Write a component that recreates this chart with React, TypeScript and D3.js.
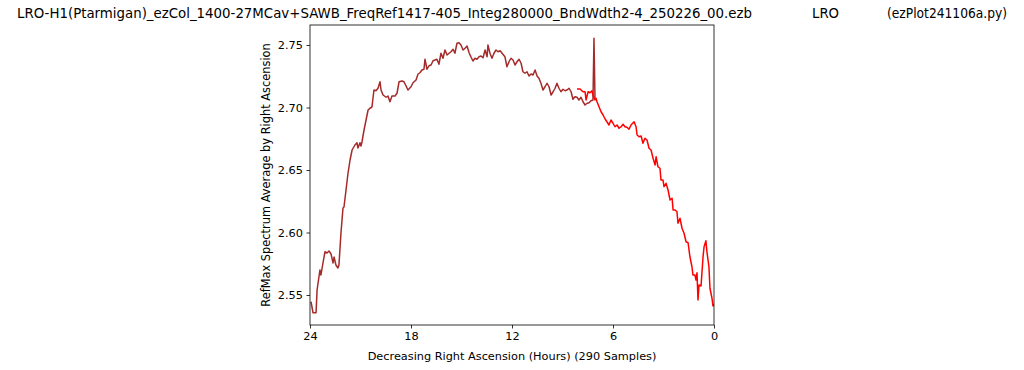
import React, { useEffect, useRef } from 'react';
import * as d3 from 'd3';

// brown trace (first pass), hours of RA vs averaged RefMax
const brownHours = [
  23.94, 23.82, 23.64, 23.58, 23.41, 23.35, 23.23, 23.11, 22.99, 22.87,
  22.75, 22.63, 22.57, 22.46, 22.34, 22.28, 22.16, 22.04, 21.98, 21.86,
  21.74, 21.62, 21.50, 21.33, 21.21, 21.15, 21.03, 20.97, 20.91, 20.79,
  20.67, 20.55, 20.44, 20.32, 20.20, 20.08, 19.96, 19.84, 19.78, 19.66,
  19.48, 19.37, 19.25, 19.13, 18.95, 18.83, 18.71, 18.53, 18.42, 18.30,
  18.18, 18.00, 17.88, 17.70, 17.58, 17.47, 17.35, 17.23, 17.17, 17.05,
  16.93, 16.81, 16.69, 16.57, 16.46, 16.34, 16.22, 16.10, 15.98, 15.86,
  15.74, 15.62, 15.50, 15.39, 15.27, 15.15, 15.03, 14.91, 14.79, 14.67,
  14.55, 14.43, 14.32, 14.20, 14.08, 13.96, 13.84, 13.72, 13.60, 13.48,
  13.43, 13.31, 13.19, 13.07, 12.95, 12.83, 12.71, 12.59, 12.42, 12.30,
  12.18, 12.06, 11.94, 11.82, 11.70, 11.58, 11.46, 11.35, 11.23, 11.11,
  10.99, 10.87, 10.75, 10.63, 10.51, 10.40, 10.28, 10.16, 10.04, 9.92,
  9.80, 9.68, 9.56, 9.44, 9.33, 9.21, 9.09, 8.97, 8.85, 8.73,
  8.61, 8.49, 8.38, 8.26, 8.14, 8.02, 7.90, 7.78, 7.66, 7.54,
  7.42, 7.31, 7.19, 7.13, 7.07,
];
const brownValues = [
  2.5446, 2.5358, 2.5358, 2.554, 2.570, 2.566, 2.5756, 2.5846, 2.5836, 2.5852,
  2.5828, 2.5756, 2.5804, 2.574, 2.5716, 2.574, 2.5996, 2.6196, 2.6204, 2.634,
  2.6476, 2.658, 2.666, 2.670, 2.6718, 2.6676, 2.6718, 2.6692, 2.6726, 2.682,
  2.690, 2.698, 2.6994, 2.7004, 2.714, 2.7134, 2.7154, 2.7206, 2.714, 2.710,
  2.7082, 2.7092, 2.7046, 2.7092, 2.7092, 2.7114, 2.7206, 2.7212, 2.7206, 2.7174,
  2.714, 2.7166, 2.7198, 2.722, 2.7268, 2.7278, 2.730, 2.7306, 2.7386, 2.7306,
  2.7334, 2.734, 2.7374, 2.738, 2.7386, 2.7346, 2.7434, 2.7394, 2.746, 2.742,
  2.7434, 2.7446, 2.7466, 2.7434, 2.7514, 2.7518, 2.750, 2.746, 2.7474, 2.7492,
  2.7438, 2.7402, 2.7372, 2.7394, 2.7386, 2.7406, 2.7412, 2.7398, 2.746, 2.7406,
  2.750, 2.7434, 2.7394, 2.7434, 2.746, 2.7446, 2.7454, 2.7434, 2.7406, 2.7326,
  2.7366, 2.7394, 2.738, 2.734, 2.7366, 2.7386, 2.7354, 2.7286, 2.7274, 2.7286,
  2.7252, 2.7268, 2.726, 2.730, 2.7252, 2.7234, 2.7194, 2.714, 2.7166, 2.7194,
  2.7166, 2.710, 2.7126, 2.7154, 2.7194, 2.7154, 2.7126, 2.7146, 2.7134, 2.714,
  2.7154, 2.7126, 2.7066, 2.7086, 2.7082, 2.706, 2.7082, 2.7046, 2.702, 2.7034,
  2.7038, 2.7054, 2.706, 2.7554, 2.7076,
];

// red trace (second pass)
const redHours = [
  8.14, 7.96, 7.78, 7.66, 7.60, 7.48, 7.37, 7.25, 7.19, 7.07,
  7.01, 6.95, 6.83, 6.71, 6.59, 6.47, 6.36, 6.24, 6.12, 6.00,
  5.88, 5.76, 5.64, 5.52, 5.40, 5.29, 5.17, 5.05, 4.93, 4.75,
  4.63, 4.57, 4.45, 4.33, 4.22, 4.10, 3.98, 3.86, 3.74, 3.62,
  3.50, 3.44, 3.33, 3.21, 3.15, 3.03, 2.97, 2.85, 2.73, 2.61,
  2.49, 2.43, 2.31, 2.20, 2.14, 2.02, 1.90, 1.78, 1.66, 1.54,
  1.43, 1.31, 1.25, 1.13, 1.07, 1.01, 0.95, 0.89, 0.77, 0.65,
  0.59, 0.48, 0.42, 0.30, 0.24, 0.12, 0.06, 0.00,
];
const redValues = [
  2.7148, 2.7148, 2.7126, 2.7126, 2.706, 2.7126, 2.7118, 2.7134, 2.710, 2.706,
  2.7074, 2.7046, 2.7006, 2.6966, 2.694, 2.6908, 2.6886, 2.686, 2.690, 2.6874,
  2.6846, 2.686, 2.6834, 2.6846, 2.6866, 2.6846, 2.6842, 2.6826, 2.686, 2.6886,
  2.6846, 2.678, 2.6766, 2.6772, 2.6714, 2.6754, 2.674, 2.6674, 2.666, 2.6594,
  2.654, 2.6606, 2.6526, 2.6514, 2.642, 2.642, 2.6366, 2.6394, 2.634, 2.626,
  2.6274, 2.618, 2.618, 2.6166, 2.6074, 2.6114, 2.6034, 2.5994, 2.5926, 2.5918,
  2.5806, 2.5726, 2.566, 2.566, 2.562, 2.5678, 2.546, 2.558, 2.5572, 2.5806,
  2.5886, 2.5934, 2.5846, 2.5726, 2.5554, 2.5474, 2.5412, 2.5428,
];

const xTicks = [24, 18, 12, 6, 0];
const yTicks = [2.55, 2.6, 2.65, 2.7, 2.75];

const titleParts = [
  'LRO-H1(Ptarmigan)_ezCol_1400-27MCav+SAWB_FreqRef1417-405_Integ280000_BndWdth2-4_250226_00.ezb',
  'LRO',
  '(ezPlot241106a.py)',
];
const xLabel = 'Decreasing Right Ascension (Hours) (290 Samples)';
const yLabel = 'RefMax Spectrum Average by Right Ascension';

const W = 1024;
const H = 370;
const FONT = '"DejaVu Sans", sans-serif';

const App: React.FC = () => {
  const svgRef = useRef<SVGSVGElement>(null);

  useEffect(() => {
    if (!svgRef.current) return;
    const svg = d3.select(svgRef.current);
    svg.selectAll('*').remove();

    const margin = { top: 25, left: 310 };
    const innerWidth = 404;
    const innerHeight = 300;

    const x = d3.scaleLinear().domain([24, 0]).range([0, innerWidth]);
    const y = d3.scaleLinear().domain([2.526, 2.766]).range([innerHeight, 0]);

    const g = svg.append('g').attr('transform', `translate(${margin.left},${margin.top})`);

    const line = d3.line<[number, number]>()
      .x(d => x(d[0]))
      .y(d => y(d[1]));

    const clip = svg.append('clipPath').attr('id', 'plotclip');
    clip.append('rect').attr('width', innerWidth).attr('height', innerHeight);

    const plot = g.append('g').attr('clip-path', 'url(#plotclip)');
    plot.append('path')
      .datum(brownHours.map((h, i) => [h, brownValues[i]] as [number, number]))
      .attr('d', line)
      .attr('fill', 'none')
      .attr('stroke', '#a52a2a')
      .attr('stroke-width', 1.5)
      .attr('stroke-linejoin', 'round');
    plot.append('path')
      .datum(redHours.map((h, i) => [h, redValues[i]] as [number, number]))
      .attr('d', line)
      .attr('fill', 'none')
      .attr('stroke', '#ff0000')
      .attr('stroke-width', 1.5)
      .attr('stroke-linejoin', 'round');

    // axes
    const xAxis = g.append('g')
      .attr('transform', `translate(0,${innerHeight})`)
      .call(d3.axisBottom(x).tickValues(xTicks).tickFormat(d3.format('d')).tickSize(3.5).tickPadding(3.5).tickSizeOuter(0));
    const yAxis = g.append('g')
      .call(d3.axisLeft(y).tickValues(yTicks).tickFormat(d3.format('.2f')).tickSize(3.5).tickPadding(3.5).tickSizeOuter(0));
    [xAxis, yAxis].forEach(a => {
      a.select('.domain').remove();
      a.selectAll('line').attr('stroke', '#000').attr('stroke-width', 0.8);
      a.selectAll('text').attr('fill', '#000').style('font-size', '11.3px').style('font-family', FONT);
    });

    // frame
    g.append('rect')
      .attr('width', innerWidth)
      .attr('height', innerHeight)
      .attr('fill', 'none')
      .attr('stroke', '#000')
      .attr('stroke-width', 0.8);

    // labels
    svg.append('text')
      .attr('x', margin.left + innerWidth / 2)
      .attr('y', 360)
      .attr('text-anchor', 'middle')
      .style('font-size', '11.3px')
      .style('font-family', FONT)
      .text(xLabel);
    svg.append('text')
      .attr('transform', `translate(270,${margin.top + innerHeight / 2}) rotate(-90)`)
      .attr('text-anchor', 'middle')
      .style('font-size', '11.4px')
      .style('font-family', FONT)
      .text(yLabel);

    // title pieces: start x and rendered width
    const titleX = [17, 812, 887];
    const titleLen = [735, 27, 120];
    titleParts.forEach((t, i) => {
      svg.append('text')
        .attr('x', titleX[i])
        .attr('y', 18)
        .attr('textLength', titleLen[i])
        .attr('lengthAdjust', 'spacingAndGlyphs')
        .style('font-size', '13.5px')
        .style('font-family', FONT)
        .text(t);
    });
  }, []);

  return (
    <svg
      ref={svgRef}
      width={W}
      height={H}
      viewBox={`0 0 ${W} ${H}`}
      style={{ position: 'absolute', left: 0, top: 0, background: '#fff' }}
    />
  );
};

export default App;
